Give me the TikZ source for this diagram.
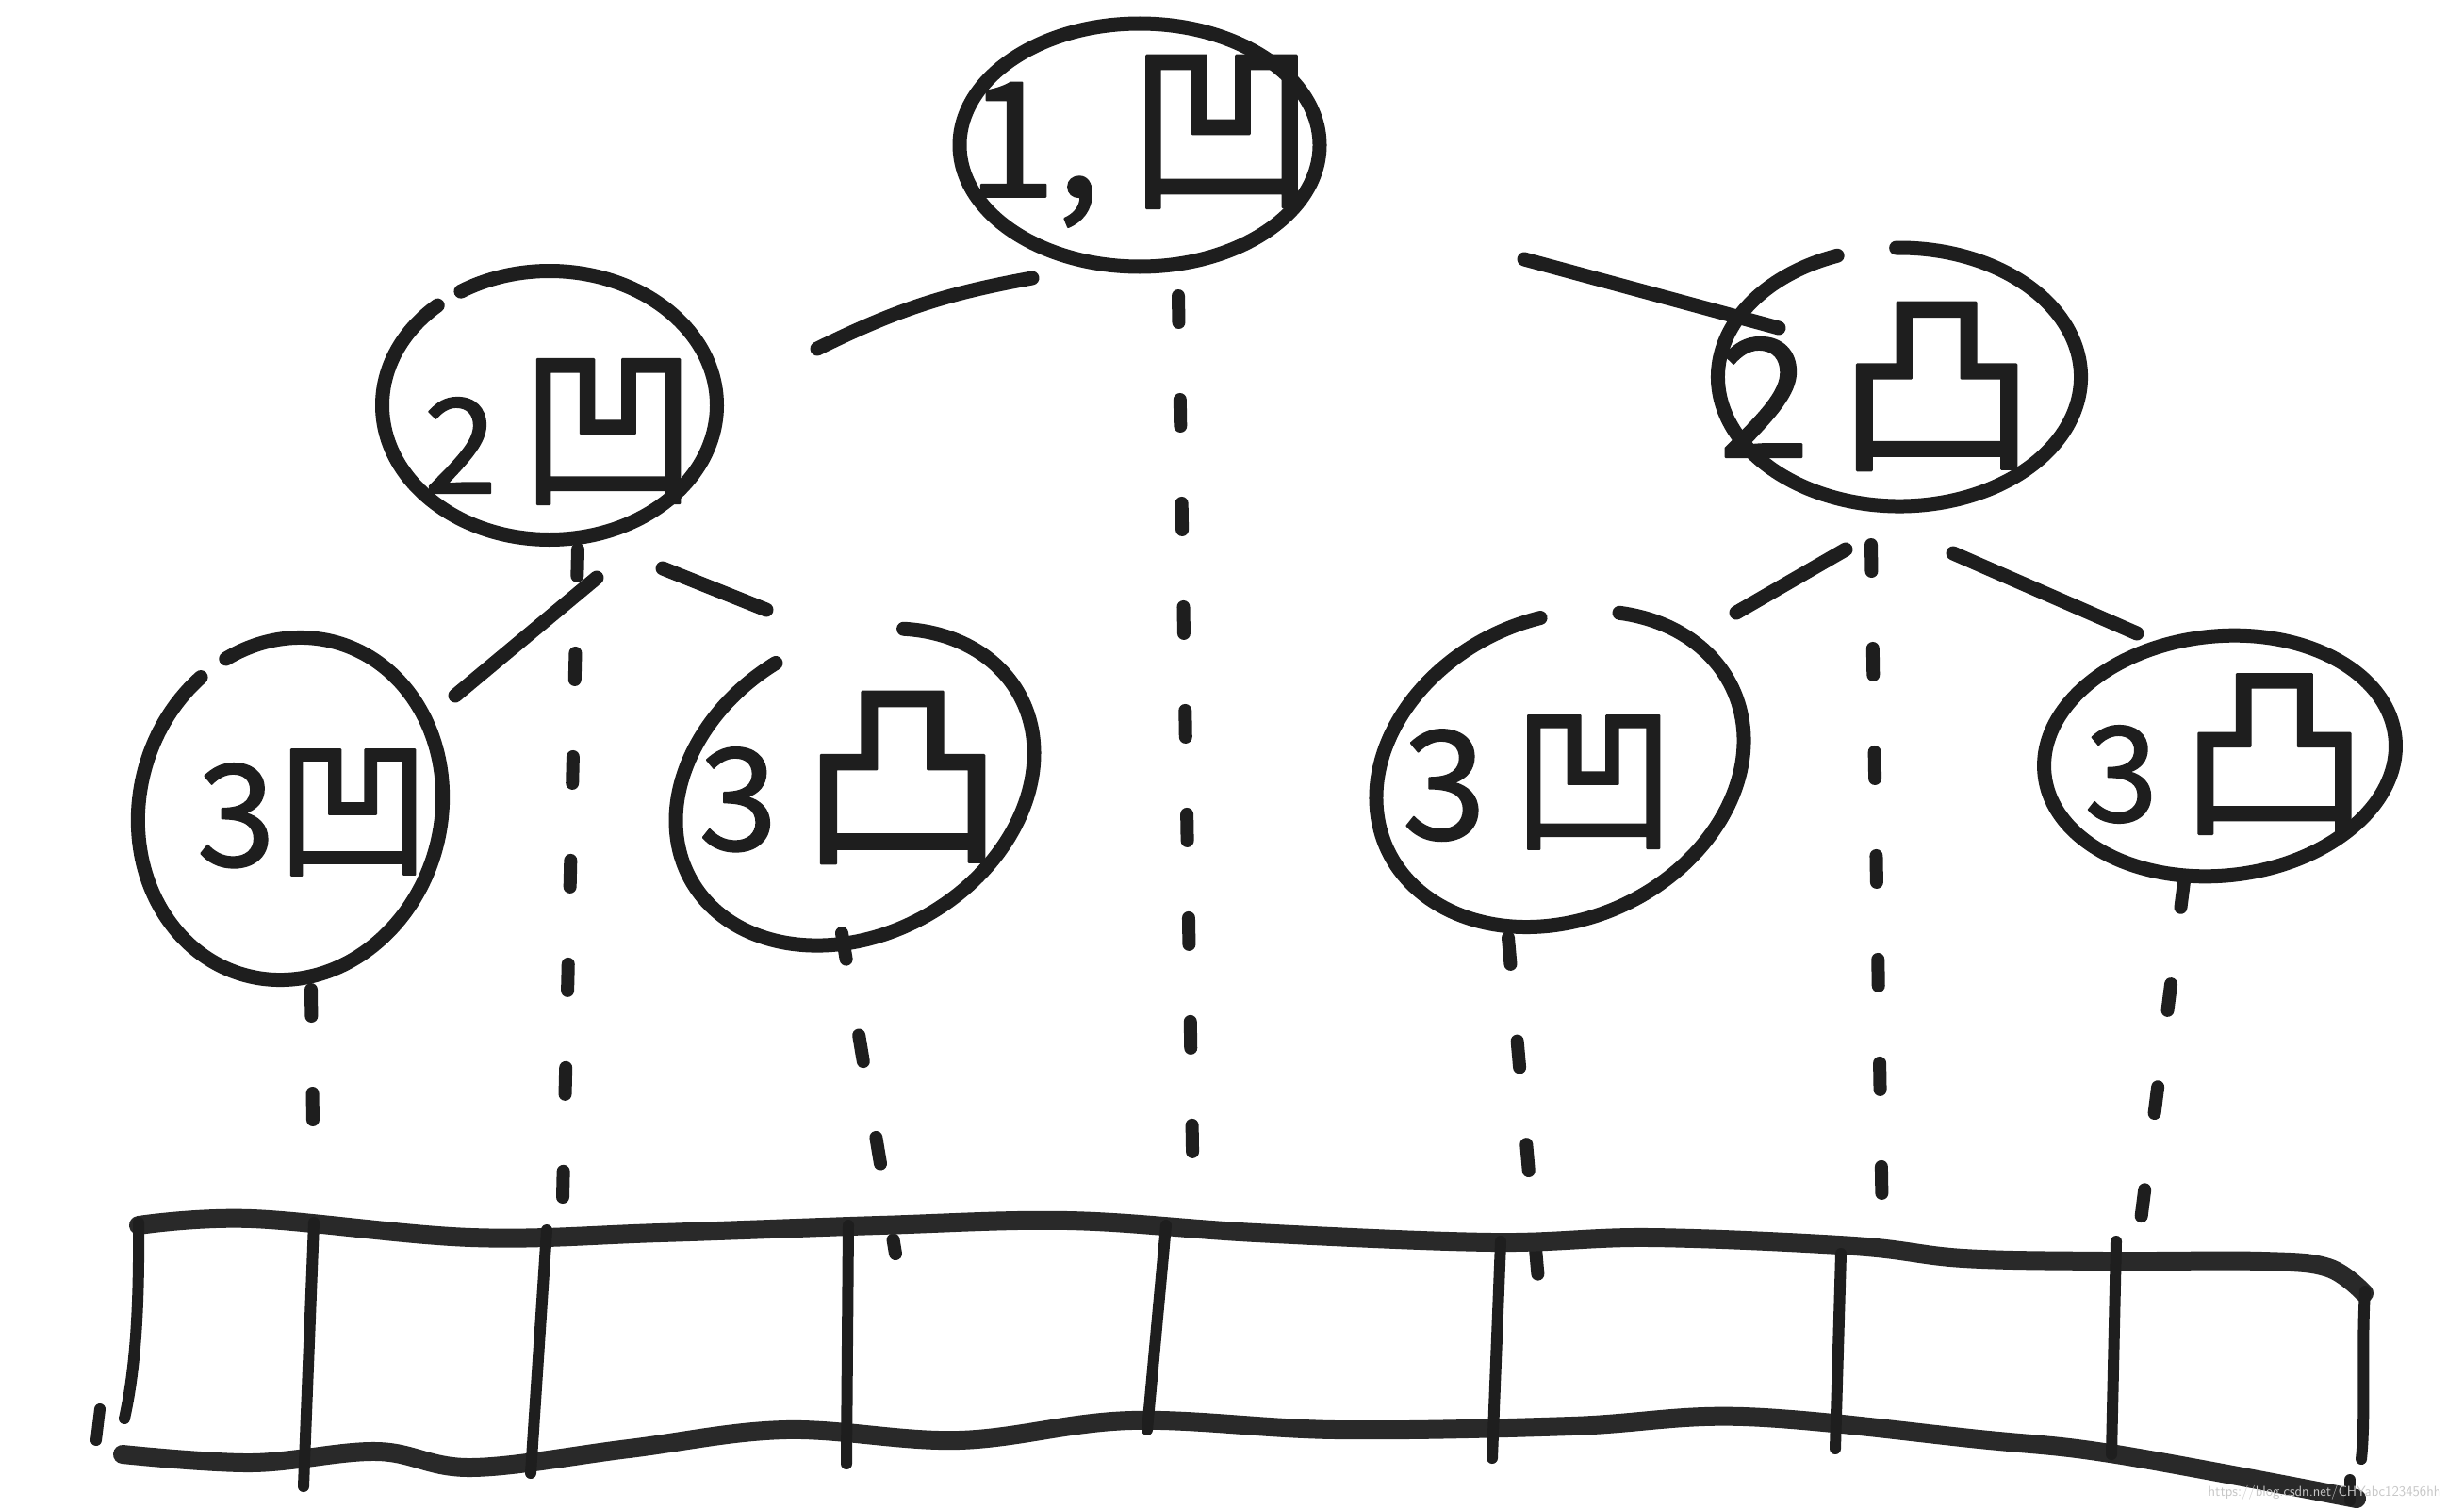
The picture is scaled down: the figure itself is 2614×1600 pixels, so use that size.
\documentclass[tikz,border=0pt]{standalone}
\usepackage{fontspec}
\usetikzlibrary{shapes.geometric}
\newfontfamily\cjk[FakeBold=1.2]{Noto Sans CJK SC}
\definecolor{ink}{HTML}{1E1E1E}
\newcommand\lbtxt[4]{{\fontsize{#1}{#1}\selectfont #2}{\fontsize{#3}{#3}\selectfont #4}}
% ring with a pen gap: #1 node, #2 rotation, #3 x radius, #4 y radius, #5 start, #6 end
\newcommand\gapring[6]{\draw[ringst, shift={(#1.center)}, rotate=#2] (#5:#3 and #4) arc[start angle=#5, end angle=#6, x radius=#3, y radius=#4];}
\begin{document}
\begin{tikzpicture}[x=1pt,y=-1pt, line cap=round, line join=round,
  ell/.style={draw=ink, ellipse, line width=15pt, inner sep=0pt, outer sep=0pt},
  ellsh/.style={ellipse, inner sep=0pt, outer sep=0pt},
  ringst/.style={draw=ink, line width=15pt},
  lbl/.style={font=\cjk, text=ink, inner sep=0pt},
  conn/.style={draw=ink, line width=15pt},
  dline/.style={draw=ink, line width=14pt, dash pattern=on 28pt off 82pt},
  arr/.style={draw=ink!95, line width=20pt},
  divl/.style={draw=ink, line width=12pt}]
\fill[white] (0,0) rectangle (2614,1600);
\path[use as bounding box] (0,0) rectangle (2614,1600);

% tree nodes
\node[ell, minimum width=382pt, minimum height=258pt] (n1) at (1209,154) {};
\node[ellsh, minimum width=355pt, minimum height=285pt] (n2l) at (583,430) {};
\node[ellsh, minimum width=385pt, minimum height=274pt] (n2r) at (2015,400) {};
\node[ellsh, minimum width=320pt, minimum height=366pt, rotate=-15] (n3a) at (308,858) {};
\node[ellsh, minimum width=400pt, minimum height=312pt, rotate=30] (n3b) at (907,835) {};
\node[ellsh, minimum width=404pt, minimum height=318pt, rotate=25] (n3c) at (1655,816) {};
\node[ell, minimum width=374pt, minimum height=254pt, rotate=6] (n3d) at (2355,802) {};

% hand-drawn rings with pen gaps
\gapring{n2l}{0}{177.5}{142.5}{-132}{-482}
\gapring{n2r}{0}{192.5}{137}{-110}{-451}
\gapring{n3a}{-15}{160}{183}{-143}{-492}
\gapring{n3b}{30}{200}{156}{-92}{-410}
\gapring{n3c}{25}{202}{159}{-76}{-411}

% labels
\node[lbl] (t1) at (1211,150) {\lbtxt{170}{1,\,}{200}{凹}};
\node[lbl] (t2l) at (595,458) {\lbtxt{140}{2\,}{190}{凹}};
\node[lbl] (t2r) at (1991,410) {\lbtxt{175}{2\,}{210}{凸}};
\node[lbl] (t3a) at (333,862) {\lbtxt{150}{3}{165}{凹}};
\node[lbl] (t3b) at (903,825) {\lbtxt{150}{3\,}{215}{凸}};
\node[lbl] (t3c) at (1633,830) {\lbtxt{160}{3\,}{175}{凹}};
\node[lbl] (t3d) at (2362,800) {\lbtxt{140}{3\,}{200}{凸}};

% solid connectors
\draw[conn] ([shift={(-114,141)}]n1.center) to[bend right=8] ([shift={(284,-60)}]n2l.center);
\draw[conn] ([shift={(408,121)}]n1.center) -- ([shift={(-128,-52)}]n2r.center);
\draw[conn] ([shift={(50,183)}]n2l.center) -- ([shift={(175,-120)}]n3a.center);
\draw[conn] ([shift={(120,173)}]n2l.center) -- ([shift={(-94,-188)}]n3b.center);
\draw[conn] ([shift={(-57,183)}]n2r.center) -- ([shift={(187,-166)}]n3c.center);
\draw[conn] ([shift={(57,187)}]n2r.center) -- ([shift={(-88,-130)}]n3d.center);

% dashed projections
\coordinate (a1) at (1266,1278);
\coordinate (a2) at (597,1270);
\coordinate (a3) at (333,1262);
\coordinate (a4) at (950,1330);
\coordinate (a5) at (1997,1305);
\coordinate (a6) at (1633,1370);
\coordinate (a7) at (2270,1303);
\draw[dline] ([shift={(41,160)}]n1.center) -- (a1);
\draw[dline] ([shift={(30,153)}]n2l.center) -- (a2);
\draw[dline] ([shift={(22,192)}]n3a.center) -- (a3);
\draw[dline] ([shift={(-14,155)}]n3b.center) -- (a4);
\draw[dline] ([shift={(-30,178)}]n2r.center) -- (a5);
\draw[dline] ([shift={(-55,179)}]n3c.center) -- (a6);
\draw[dline] ([shift={(-38,133)}]n3d.center) -- (a7);

% array strip
\draw[arr] plot[smooth, tension=0.6] coordinates {(147,1300) (267,1293) (500,1313) (700,1308) (933,1300) (1133,1295) (1333,1308) (1583,1318) (1750,1313) (1967,1322) (2083,1335) (2233,1338) (2400,1338) (2470,1345) (2508,1372)};
\draw[arr] plot[smooth, tension=0.6] coordinates {(130,1543) (267,1552) (400,1540) (500,1557) (667,1537) (833,1517) (1017,1528) (1200,1507) (1417,1517) (1667,1513) (1850,1503) (2100,1527) (2245,1543) (2500,1590)};
\draw[divl] (147,1297) .. controls (148,1400) and (142,1460) .. (132,1505);
\draw[divl] (106,1495) -- (102,1528);
\draw[divl] (2509,1370) .. controls (2505,1430) and (2510,1500) .. (2505,1548);
\draw[divl] (2493,1570) -- (2493,1592);
\draw[divl] (333,1297) -- (322,1577);
\draw[divl] (580,1305) -- (563,1563);
\draw[divl] (900,1300) -- (898,1553);
\draw[divl] (1237,1300) -- (1217,1517);
\draw[divl] (1592,1317) -- (1583,1547);
\draw[divl] (1953,1330) -- (1947,1537);
\draw[divl] (2245,1317) -- (2240,1543);

\node[font=\fontsize{15}{15}\selectfont\sffamily, text=black!22, inner sep=0pt] (wm) at (2466,1584) {https://blog.csdn.net/CHYabc123456hh};
\end{tikzpicture}
\end{document}
